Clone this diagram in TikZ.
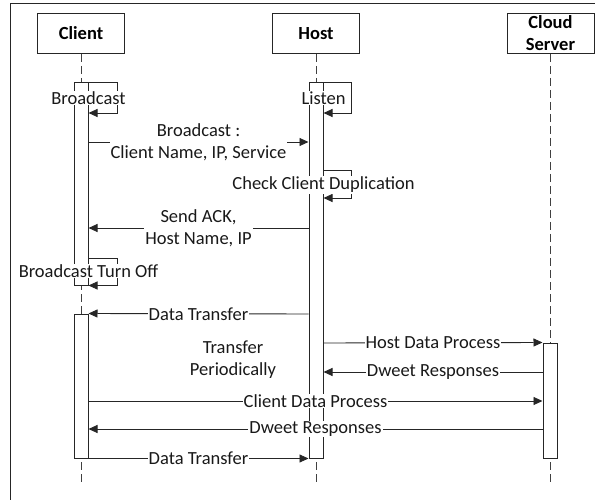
\documentclass[tikz,border=0pt]{standalone}
\usepackage{fontspec}
\setmainfont{Carlito}
\usetikzlibrary{arrows.meta}
\tikzset{
  actor/.style={draw=black!85, line width=1pt, fill=white, minimum width=87pt, minimum height=40pt,
    font=\fontsize{18.5}{22}\selectfont\bfseries, align=center, inner sep=0pt},
  lifeline/.style={draw=black!75, dash pattern=on 8pt off 4pt, line width=1pt},
  bar/.style={draw=black!85, fill=white, line width=1pt, minimum width=14pt, inner sep=0pt},
  msg/.style={draw=black!85, line width=0.9pt, -{Triangle[length=9pt,width=8pt]}},
  lbl/.style={fill=white, inner sep=1pt, font=\fontsize{18.5}{22}\selectfont, align=center, text=black!90},
  plain/.style={inner sep=0pt, font=\fontsize{18.5}{22}\selectfont, align=center, text=black!90}
}
\begin{document}
\begin{tikzpicture}[x=1pt,y=-1pt]
\useasboundingbox (0,0) rectangle (595,500);
% frame
\draw[line width=1pt, black!85] (10,505) -- (10,4) -- (600,4);
% actors
\node[actor] (client) at (81,33.5) {Client};
\node[actor] (host) at (316,33.5) {Host};
\node[actor] (cloud) at (550.5,33.5) {Cloud\\Server};
% lifeline ends
\coordinate (clientend) at (81,482);
\coordinate (hostend) at (316,482);
\coordinate (cloudend) at (550,482);
\draw[lifeline] (client) -- (clientend);
\draw[lifeline] (host) -- (hostend);
\draw[lifeline] (cloud.south -| cloudend) -- (cloudend);
% activation bars
\node[bar, minimum height=202pt] (cb1) at (81,184) {};
\node[bar, minimum height=144pt] (cb2) at (81,386) {};
\node[bar, minimum height=375pt] (hb) at (316,270.5) {};
\node[bar, minimum height=115pt] (cl) at (550,400.5) {};
% self message: Broadcast
\draw[msg] (cb1.north east) -- ++(29,0) |- (cb1.east |- 0,113);
\node[lbl] (lb1) at (cb1.east |- 0,98) {Broadcast};
% self message: Listen
\draw[msg] (hb.north east) -- ++(28,0) |- (hb.east |- 0,113);
\node[lbl] (lb2) at (hb.east |- 0,98) {Listen};
% Broadcast message
\draw[msg] (cb1.east |- 0,142) -- node[lbl]{Broadcast :\\Client Name, IP, Service} (hb.west |- 0,142);
% self message: Check Client Duplication
\draw[msg] (hb.east |- 0,170) -- ++(28,0) |- (hb.east |- 0,198);
\node[lbl] (lb3) at (hb.east |- 0,185) {Check Client Duplication};
% Send ACK
\draw[msg] (hb.west |- 0,228) -- node[lbl]{Send ACK,\\Host Name, IP} (cb1.east |- 0,228);
% self message: Broadcast Turn Off
\draw[msg] (cb1.east |- 0,258) -- ++(29,0) |- (cb1.south east);
\node[lbl] (lb4) at (cb1.east |- 0,271) {Broadcast Turn Off};
% Data Transfer host -> client
\draw[msg] (hb.west |- 0,314) -- node[lbl]{Data Transfer} (cb2.north east);
% Transfer Periodically
\node[plain] (tp) at (233,360) {Transfer\\Periodically};
% Host Data Process
\draw[msg] (hb.east |- 0,343) -- node[lbl]{Host Data Process} (cl.north west);
% Dweet Responses to host
\draw[msg] (cl.west |- 0,372) -- node[lbl]{Dweet Responses} (hb.east |- 0,372);
% Client Data Process
\draw[msg] (cb2.east |- 0,401) -- node[lbl]{Client Data Process} (cl.west |- 0,401);
% Dweet Responses to client
\draw[msg] (cl.west |- 0,429) -- node[lbl]{Dweet Responses} (cb2.east |- 0,429);
% Data Transfer client -> host
\draw[msg] (cb2.south east) -- node[lbl]{Data Transfer} (hb.south west);
\end{tikzpicture}
\end{document}
